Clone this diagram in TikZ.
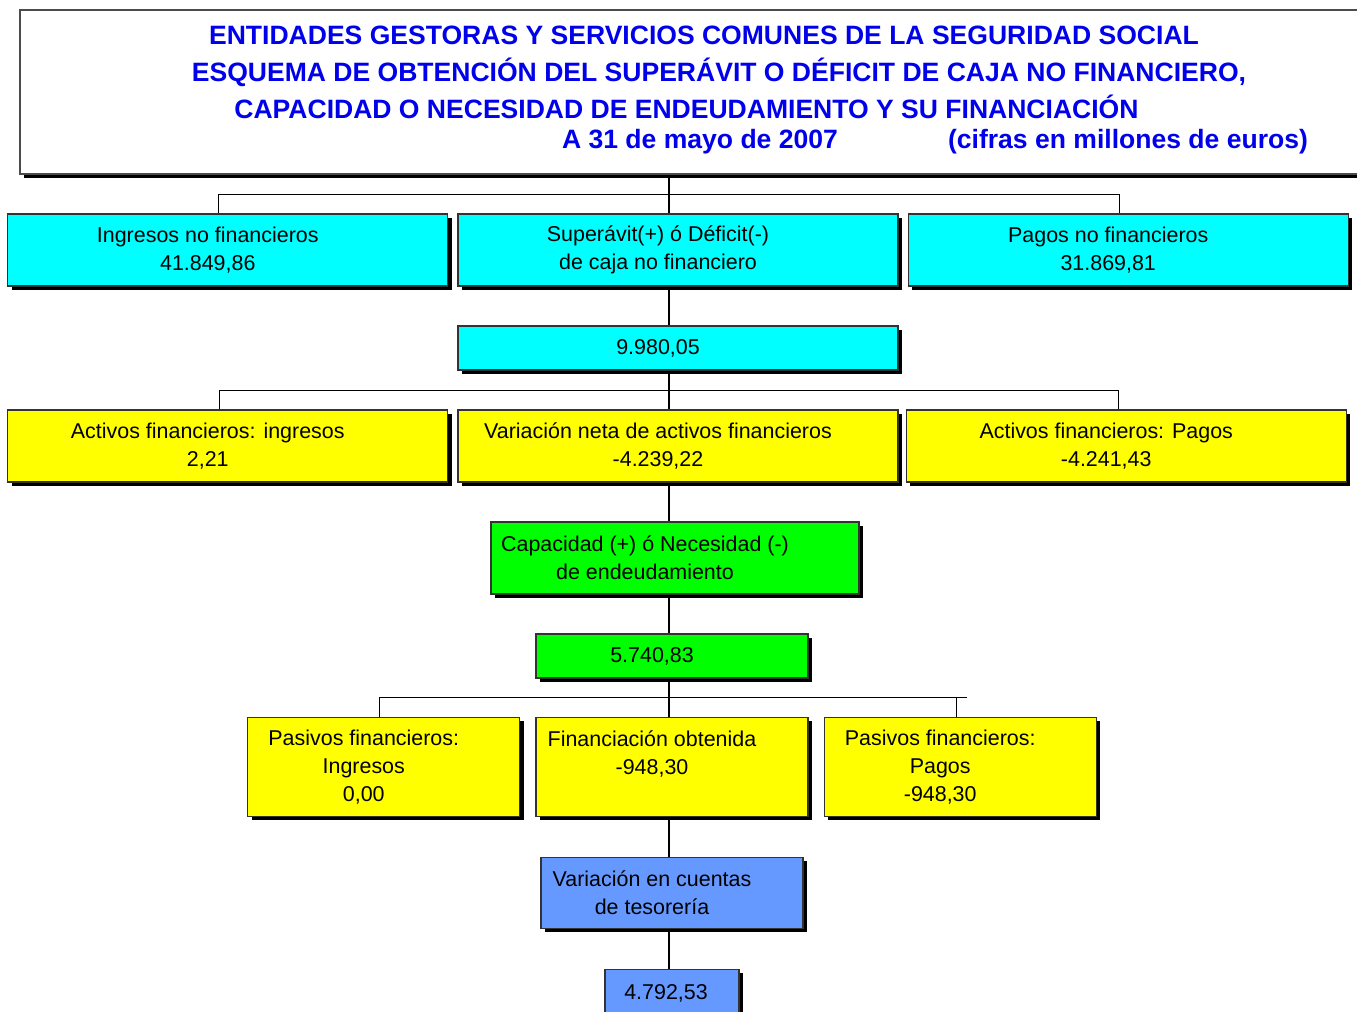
\documentclass[tikz,border=0pt]{standalone}
\usepackage{fontspec}
\setmainfont{Liberation Sans}
\usepackage{tikz}
\usetikzlibrary{positioning,shadows}
\definecolor{cian}{RGB}{0,255,255}
\definecolor{amarillo}{RGB}{255,255,0}
\definecolor{verde}{RGB}{0,255,0}
\definecolor{azulclaro}{RGB}{102,153,255}
\definecolor{azultitulo}{RGB}{0,0,235}
\tikzset{
    %Define standard shadow
    sombra/.style={
           drop shadow={shadow xshift=0.08cm, shadow yshift=-0.08cm,
                        fill=black, opacity=1}},
    %Define style for boxes
    caja/.style={
           rectangle,
           draw=black!80, line width=0.7pt,
           sombra,
           inner sep=0pt},
    cianbox/.style={caja, fill=cian},
    amabox/.style={caja, fill=amarillo},
    verbox/.style={caja, fill=verde},
    azubox/.style={caja, fill=azulclaro},
    ancha/.style={minimum width=8.8cm, minimum height=1.44cm},
    estrecha/.style={minimum width=5.44cm, minimum height=1.98cm},
    %Define style for texts
    boxtxt/.style={
           align=center,
           xshift=-0.4cm,
           inner sep=0pt,
           font=\fontsize{12.2}{15.9}\selectfont},
    titulotxt/.style={
           align=center,
           inner sep=0pt,
           text=azultitulo,
           font=\bfseries\fontsize{15.1}{21}\selectfont}
}
\begin{document}
\begin{tikzpicture}[line width=0.6pt,node distance=0.775cm]
\useasboundingbox (0,0) rectangle (27.14,-20.22);
% titulo
\node[caja, draw=black!70, fill=white, minimum width=27.2cm, minimum height=3.28cm] (tit) at (14.0,-1.84) {};
\node[titulotxt] (t1) at (14.08,-1.44) {ENTIDADES GESTORAS Y SERVICIOS COMUNES DE LA SEGURIDAD SOCIAL\\
  \hspace*{0.6cm}ESQUEMA DE OBTENCIÓN DEL SUPERÁVIT O DÉFICIT DE CAJA NO FINANCIERO,\\
  CAPACIDAD O NECESIDAD DE ENDEUDAMIENTO Y SU FINANCIACIÓN\hspace*{0.7cm}};
\node[titulotxt] (t2) at (14.0,-2.84) {A 31 de mayo de 2007};
\node[titulotxt] (t3) at (22.56,-2.84) {(cifras en millones de euros)};
\coordinate (eje) at (13.38,0);
% operaciones no financieras
\node[cianbox, ancha, label={[boxtxt]center:{Superávit(+) ó Déficit(-)\\de caja no financiero}}] (sup) at (13.56,-5.0) {};
\node[cianbox, ancha, left=0.18cm of sup, label={[boxtxt]center:{Ingresos no financieros\\41.849,86}}] (ing) {};
\node[cianbox, ancha, right=0.18cm of sup, label={[boxtxt]center:{Pagos no financieros\\31.869,81}}] (pag) {};
\node[cianbox, minimum width=8.8cm, minimum height=0.88cm, below=of sup, label={[boxtxt]center:{9.980,05}}] (sal) {};
% activos financieros
\node[amabox, ancha, below=of sal, label={[boxtxt]center:{Variación neta de activos financieros\\-4.239,22}}] (var) {};
\node[amabox, ancha, left=0.18cm of var, label={[boxtxt]center:{Activos financieros: ingresos\\2,21}}] (ain) {};
\node[amabox, ancha, right=0.14cm of var, label={[boxtxt]center:{Activos financieros: Pagos\\-4.241,43}}] (apa) {};
\node[verbox, minimum width=7.36cm, minimum height=1.44cm, below=of var, xshift=-0.06cm, label={[boxtxt, xshift=-0.2cm]center:{Capacidad (+) ó Necesidad (-)\\de endeudamiento}}] (cap) {};
\node[verbox, minimum width=5.44cm, minimum height=0.88cm, below=of cap, xshift=-0.06cm, label={[boxtxt]center:{5.740,83}}] (net) {};
% pasivos financieros
\node[amabox, estrecha, below=0.76cm of net, label={[boxtxt]center:{Financiación obtenida\\-948,30\\\mbox{}}}] (fin) {};
\node[amabox, estrecha, left=0.3cm of fin, label={[boxtxt]center:{Pasivos financieros:\\Ingresos\\0,00}}] (pin) {};
\node[amabox, estrecha, right=0.3cm of fin, label={[boxtxt]center:{Pasivos financieros:\\Pagos\\-948,30}}] (ppa) {};
\node[azubox, minimum width=5.24cm, minimum height=1.42cm, below=0.795cm of fin, label={[boxtxt]center:{Variación en cuentas\\de tesorería}}] (tes) {};
\node[azubox, minimum width=2.68cm, minimum height=0.96cm, below=0.795cm of tes, label={[boxtxt, xshift=0.28cm]center:{4.792,53}}] (res) {};
% conectores
\draw (tit.south -| eje) -- (sup.north -| eje);
\draw ([xshift=-0.18cm]ing.north) -- ++(0,0.38) -| ([xshift=-0.18cm]pag.north);
\draw (sup.south -| eje) -- (sal.north -| eje);
\draw (sal.south -| eje) -- (var.north -| eje);
\draw ([xshift=-0.16cm]ain.north) -- ++(0,0.38) -| ([xshift=-0.16cm]apa.north);
\draw (var.south -| eje) -- (cap.north -| eje);
\draw (cap.south -| eje) -- (net.north -| eje);
\draw (net.south -| eje) -- (fin.north -| eje);
\draw ([xshift=-0.08cm]pin.north) |- ([xshift=0.14cm,yshift=0.38cm]ppa.north);
\draw ([xshift=-0.08cm]ppa.north) -- ++(0,0.38);
\draw (fin.south -| eje) -- (tes.north -| eje);
\draw (tes.south -| eje) -- (res.north -| eje);
\end{tikzpicture}
\end{document}
